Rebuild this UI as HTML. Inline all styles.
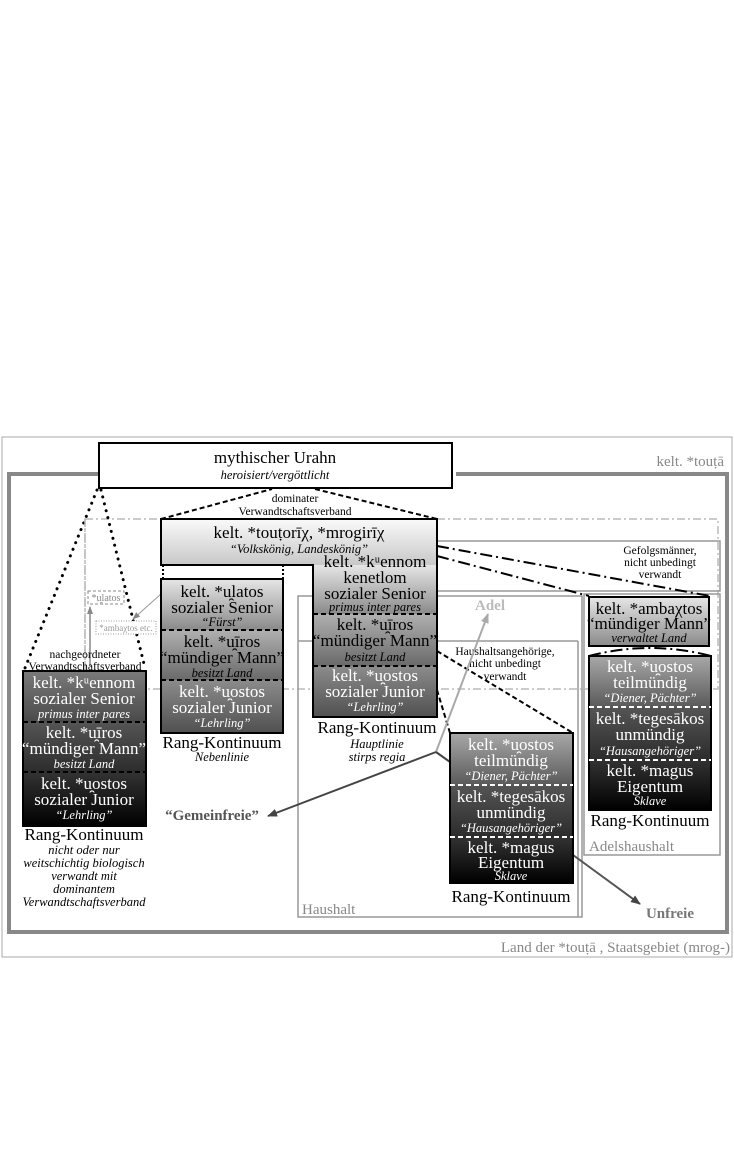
<!DOCTYPE html>
<html><head><meta charset="utf-8"><style>
html,body{margin:0;padding:0;background:#fff;}
svg{display:block;font-family:"Liberation Serif",serif;}
.m{font-size:17px;text-anchor:middle;}
.i{font-size:12.5px;font-style:italic;text-anchor:middle;}
.s{font-size:11.5px;text-anchor:middle;}
</style></head><body>
<svg width="734" height="1169" viewBox="0 0 734 1169" xmlns="http://www.w3.org/2000/svg">
<defs>
<linearGradient id="gL" x1="0" y1="0" x2="0" y2="1"><stop offset="0" stop-color="#fafafa"/><stop offset="1" stop-color="#c8c8c8"/></linearGradient>
<linearGradient id="g1" x1="0" y1="0" x2="0" y2="1"><stop offset="0" stop-color="#e6e6e6"/><stop offset="1" stop-color="#8a8a8a"/></linearGradient>
<linearGradient id="g2" x1="0" y1="0" x2="0" y2="1"><stop offset="0" stop-color="#b0b0b0"/><stop offset="1" stop-color="#6a6a6a"/></linearGradient>
<linearGradient id="g3" x1="0" y1="0" x2="0" y2="1"><stop offset="0" stop-color="#8c8c8c"/><stop offset="1" stop-color="#505050"/></linearGradient>
<linearGradient id="d1" x1="0" y1="0" x2="0" y2="1"><stop offset="0" stop-color="#7a7a7a"/><stop offset="1" stop-color="#4a4a4a"/></linearGradient>
<linearGradient id="d2" x1="0" y1="0" x2="0" y2="1"><stop offset="0" stop-color="#555"/><stop offset="1" stop-color="#2c2c2c"/></linearGradient>
<linearGradient id="d3" x1="0" y1="0" x2="0" y2="1"><stop offset="0" stop-color="#333"/><stop offset="1" stop-color="#000"/></linearGradient>
<linearGradient id="h1" x1="0" y1="0" x2="0" y2="1"><stop offset="0" stop-color="#a8a8a8"/><stop offset="1" stop-color="#5a5a5a"/></linearGradient>
<marker id="ad" markerWidth="10" markerHeight="8" refX="9" refY="4" orient="auto" markerUnits="userSpaceOnUse"><path d="M0,0 L10,4 L0,8 z" fill="#444"/></marker>
<marker id="ag" markerWidth="10" markerHeight="8" refX="9" refY="4" orient="auto" markerUnits="userSpaceOnUse"><path d="M0,0 L10,4 L0,8 z" fill="#aaa"/></marker>
<marker id="ag2" markerWidth="8" markerHeight="6" refX="7" refY="3" orient="auto" markerUnits="userSpaceOnUse"><path d="M0,0 L8,3 L0,6 z" fill="#888"/></marker>
</defs>

<rect x="2" y="437" width="730" height="520" fill="#fff" stroke="#aaa" stroke-width="1"/>
<path d="M98,474 L9,474 L9,932 L727,932 L727,474 L456,474" fill="none" stroke="#888" stroke-width="4"/>
<text x="724" y="466" font-size="15" fill="#888" text-anchor="end">kelt. *touṭā</text>
<text x="730" y="952" font-size="15" fill="#888" text-anchor="end">Land der *touṭā , Staatsgebiet (mrog-)</text>

<rect x="85" y="519" width="633" height="170" fill="none" stroke="#bbb" stroke-width="1.5" stroke-dasharray="8,3,2,3"/>
<rect x="437" y="541" width="283" height="50" fill="none" stroke="#999" stroke-width="1.5"/>
<rect x="584" y="594" width="136" height="261" fill="none" stroke="#999" stroke-width="1.5"/>
<rect x="298" y="596" width="284" height="321" fill="none" stroke="#999" stroke-width="1.5"/>
<line x1="298" y1="641" x2="578" y2="641" stroke="#999" stroke-width="1.5"/>
<line x1="578" y1="641" x2="578" y2="917" stroke="#999" stroke-width="1.5"/>
<text x="490" y="610" font-size="15" font-weight="bold" fill="#bbb" text-anchor="middle">Adel</text>
<text x="302" y="914" font-size="15" fill="#888">Haushalt</text>
<text x="589" y="851" font-size="15" fill="#888">Adelshaushalt</text>

<rect x="99" y="443" width="353" height="45" fill="#fff" stroke="#000" stroke-width="2"/>
<text x="275" y="463" class="m">mythischer Urahn</text>
<text x="275" y="479" class="i">heroisiert/vergöttlicht</text>

<line x1="97" y1="490" x2="25" y2="668" stroke="#000" stroke-width="3" stroke-dasharray="0.1,7" stroke-linecap="round"/>
<line x1="101" y1="490" x2="145" y2="668" stroke="#000" stroke-width="3" stroke-dasharray="0.1,7" stroke-linecap="round"/>
<line x1="161" y1="519" x2="272" y2="489" stroke="#000" stroke-width="2" stroke-dasharray="5,3"/>
<line x1="315" y1="489" x2="437" y2="519" stroke="#000" stroke-width="2" stroke-dasharray="5,3"/>
<text x="295" y="502" class="s">dominater</text>
<text x="295" y="515" class="s">Verwandtschaftsverband</text>
<line x1="437" y1="546" x2="710" y2="596" stroke="#000" stroke-width="2" stroke-dasharray="12,4,2,4"/>
<line x1="437" y1="556" x2="589" y2="596" stroke="#000" stroke-width="2" stroke-dasharray="12,4,2,4"/>
<path d="M589,656 Q650,640 711,656" fill="none" stroke="#000" stroke-width="2" stroke-dasharray="12,4,2,4"/>
<text x="660" y="554" class="s">Gefolgsmänner,</text>
<text x="660" y="566" class="s">nicht unbedingt</text>
<text x="660" y="578" class="s">verwandt</text>
<line x1="437" y1="651" x2="573" y2="733" stroke="#000" stroke-width="2" stroke-dasharray="5,3"/>
<path d="M437,690 L450,733" fill="none" stroke="#000" stroke-width="2" stroke-dasharray="5,3"/>
<text x="505" y="655" class="s">Haushaltsangehörige,</text>
<text x="505" y="667" class="s">nicht unbedingt</text>
<text x="505" y="680" class="s">verwandt</text>
<line x1="436" y1="752" x2="488" y2="614" stroke="#aaa" stroke-width="2" marker-end="url(#ag)"/>
<line x1="436" y1="752" x2="268" y2="816" stroke="#444" stroke-width="2" marker-end="url(#ad)"/>
<line x1="436" y1="752" x2="450" y2="762" stroke="#444" stroke-width="2"/>
<line x1="573" y1="855" x2="640" y2="904" stroke="#555" stroke-width="2" marker-end="url(#ad)"/>
<text x="212" y="820" font-size="15" font-weight="bold" fill="#555" text-anchor="middle">“Gemeinfreie”</text>
<text x="670" y="918" font-size="15" font-weight="bold" fill="#777" text-anchor="middle">Unfreie</text>

<line x1="85" y1="519" x2="85" y2="690" stroke="#bbb" stroke-width="1.5" stroke-dasharray="8,3,2,3"/>
<line x1="90" y1="666" x2="90" y2="607" stroke="#888" stroke-width="1.5" marker-end="url(#ag2)"/>
<rect x="88" y="591" width="36" height="13" fill="#fff" stroke="#888" stroke-dasharray="3,2"/>
<text x="106" y="601" font-size="10" fill="#888" text-anchor="middle">*u̯latos</text>
<rect x="96" y="621" width="60" height="13" fill="#fff" stroke="#999" stroke-dasharray="1,1.5"/>
<text x="126" y="631" font-size="9" fill="#999" text-anchor="middle">*ambaχtos etc.</text>
<line x1="161" y1="594" x2="133" y2="619" stroke="#999" stroke-width="1" marker-end="url(#ag2)"/>
<text x="85" y="658" class="s">nachgeordneter</text>
<text x="85" y="670" class="s">Verwandtschaftsverband</text>

<!-- König / Hauptlinie -->
<rect x="161" y="519" width="276" height="46" fill="url(#gL)"/>
<rect x="313" y="565" width="124" height="49" fill="url(#g1)"/>
<rect x="313" y="614" width="124" height="52" fill="url(#g2)"/>
<rect x="313" y="666" width="124" height="51" fill="url(#g3)"/>
<path d="M161,519 L437,519 L437,717 L313,717 L313,565 L161,565 Z" fill="none" stroke="#000" stroke-width="2"/>
<line x1="313" y1="614" x2="437" y2="614" stroke="#000" stroke-width="2" stroke-dasharray="5,3"/>
<line x1="313" y1="666" x2="437" y2="666" stroke="#000" stroke-width="2" stroke-dasharray="5,3"/>
<text x="299" y="538" class="m">kelt. *touṭorīχ, *mrogirīχ</text>
<text x="299" y="553" class="i">“Volkskönig, Landeskönig”</text>
<text x="375" y="567" class="m">kelt. *kᵘennom</text>
<text x="375" y="583" class="m">kenetlom</text>
<text x="375" y="599" class="m">sozialer Senior</text>
<text x="375" y="611" class="i">primus inter pares</text>
<text x="375" y="630" class="m">kelt. *u̯īros</text>
<text x="375" y="646" class="m">“mündiger Mann”</text>
<text x="375" y="661" class="i">besitzt Land</text>
<text x="375" y="681" class="m" fill="#fff">kelt. *u̯ostos</text>
<text x="375" y="697" class="m" fill="#fff">sozialer Junior</text>
<text x="375" y="711" class="i" fill="#fff">“Lehrling”</text>
<text x="377" y="733" class="m">Rang-Kontinuum</text>
<text x="377" y="748" class="i">Hauptlinie</text>
<text x="377" y="761" class="i">stirps regia</text>

<!-- Nebenlinie -->
<line x1="163" y1="565" x2="163" y2="579" stroke="#000" stroke-width="2" stroke-dasharray="2,2"/>
<line x1="283" y1="565" x2="283" y2="579" stroke="#000" stroke-width="2" stroke-dasharray="2,2"/>
<rect x="161" y="579" width="122" height="51" fill="url(#g1)"/>
<rect x="161" y="630" width="122" height="50" fill="url(#g2)"/>
<rect x="161" y="680" width="122" height="53" fill="url(#g3)"/>
<rect x="161" y="579" width="122" height="154" fill="none" stroke="#000" stroke-width="2"/>
<line x1="161" y1="630" x2="283" y2="630" stroke="#000" stroke-width="2" stroke-dasharray="5,3"/>
<line x1="161" y1="680" x2="283" y2="680" stroke="#000" stroke-width="2" stroke-dasharray="5,3"/>
<text x="222" y="597" class="m">kelt. *u̯latos</text>
<text x="222" y="613" class="m">sozialer Senior</text>
<text x="222" y="626" class="i">“Fürst”</text>
<text x="222" y="647" class="m">kelt. *u̯īros</text>
<text x="222" y="663" class="m">“mündiger Mann”</text>
<text x="222" y="677" class="i">besitzt Land</text>
<text x="222" y="697" class="m" fill="#fff">kelt. *u̯ostos</text>
<text x="222" y="713" class="m" fill="#fff">sozialer Junior</text>
<text x="222" y="727" class="i" fill="#fff">“Lehrling”</text>
<text x="222" y="748" class="m">Rang-Kontinuum</text>
<text x="222" y="761" class="i">Nebenlinie</text>

<!-- Left box -->
<rect x="23" y="671" width="123" height="51" fill="url(#d1)"/>
<rect x="23" y="722" width="123" height="50" fill="url(#d2)"/>
<rect x="23" y="772" width="123" height="54" fill="url(#d3)"/>
<rect x="23" y="671" width="123" height="155" fill="none" stroke="#000" stroke-width="2"/>
<line x1="23" y1="722" x2="146" y2="722" stroke="#000" stroke-width="2" stroke-dasharray="5,3"/>
<line x1="23" y1="772" x2="146" y2="772" stroke="#000" stroke-width="2" stroke-dasharray="5,3"/>
<g fill="#fff">
<text x="84" y="688" class="m">kelt. *kᵘennom</text>
<text x="84" y="704" class="m">sozialer Senior</text>
<text x="84" y="718" class="i">primus inter pares</text>
<text x="84" y="738" class="m">kelt. *u̯īros</text>
<text x="84" y="754" class="m">“mündiger Mann”</text>
<text x="84" y="768" class="i">besitzt Land</text>
<text x="84" y="789" class="m">kelt. *u̯ostos</text>
<text x="84" y="805" class="m">sozialer Junior</text>
<text x="84" y="819" class="i">“Lehrling”</text>
</g>
<text x="84" y="840" class="m">Rang-Kontinuum</text>
<text x="84" y="854" class="i" font-size="11">nicht oder nur</text>
<text x="84" y="867" class="i" font-size="11">weitschichtig biologisch</text>
<text x="84" y="880" class="i" font-size="11">verwandt mit</text>
<text x="84" y="893" class="i" font-size="11">dominantem</text>
<text x="84" y="906" class="i" font-size="11">Verwandtschaftsverband</text>

<!-- Haushalt box -->
<rect x="450" y="733" width="123" height="52" fill="url(#h1)"/>
<rect x="450" y="785" width="123" height="52" fill="url(#d2)"/>
<rect x="450" y="837" width="123" height="46" fill="url(#d3)"/>
<rect x="450" y="733" width="123" height="150" fill="none" stroke="#000" stroke-width="2"/>
<line x1="450" y1="785" x2="573" y2="785" stroke="#fff" stroke-width="2" stroke-dasharray="5,3"/>
<line x1="450" y1="837" x2="573" y2="837" stroke="#fff" stroke-width="2" stroke-dasharray="5,3"/>
<g fill="#fff">
<text x="511" y="750" class="m">kelt. *u̯ostos</text>
<text x="511" y="766" class="m">teilmündig</text>
<text x="511" y="780" class="i">“Diener, Pächter”</text>
<text x="511" y="802" class="m">kelt. *tegesākos</text>
<text x="511" y="818" class="m">unmündig</text>
<text x="511" y="832" class="i">“Hausangehöriger”</text>
<text x="511" y="853" class="m">kelt. *magus</text>
<text x="511" y="868" class="m">Eigentum</text>
<text x="511" y="880" class="i">Sklave</text>
</g>
<text x="511" y="902" class="m">Rang-Kontinuum</text>

<!-- Adelshaushalt -->
<rect x="589" y="597" width="120" height="49" fill="url(#g1)" stroke="#000" stroke-width="2"/>
<text x="649" y="614" class="m">kelt. *ambaχtos</text>
<text x="649" y="629" class="m">“mündiger Mann”</text>
<text x="649" y="642" class="i">verwaltet Land</text>
<rect x="589" y="656" width="122" height="51" fill="url(#h1)"/>
<rect x="589" y="707" width="122" height="53" fill="url(#d2)"/>
<rect x="589" y="760" width="122" height="50" fill="url(#d3)"/>
<rect x="589" y="656" width="122" height="154" fill="none" stroke="#000" stroke-width="2"/>
<line x1="589" y1="707" x2="711" y2="707" stroke="#fff" stroke-width="2" stroke-dasharray="5,3"/>
<line x1="589" y1="760" x2="711" y2="760" stroke="#fff" stroke-width="2" stroke-dasharray="5,3"/>
<g fill="#fff">
<text x="650" y="672" class="m">kelt. *u̯ostos</text>
<text x="650" y="688" class="m">teilmündig</text>
<text x="650" y="702" class="i">“Diener, Pächter”</text>
<text x="650" y="724" class="m">kelt. *tegesākos</text>
<text x="650" y="740" class="m">unmündig</text>
<text x="650" y="755" class="i">“Hausangehöriger”</text>
<text x="650" y="776" class="m">kelt. *magus</text>
<text x="650" y="792" class="m">Eigentum</text>
<text x="650" y="805" class="i">Sklave</text>
</g>
<text x="650" y="826" class="m">Rang-Kontinuum</text>
</svg>
</body></html>
